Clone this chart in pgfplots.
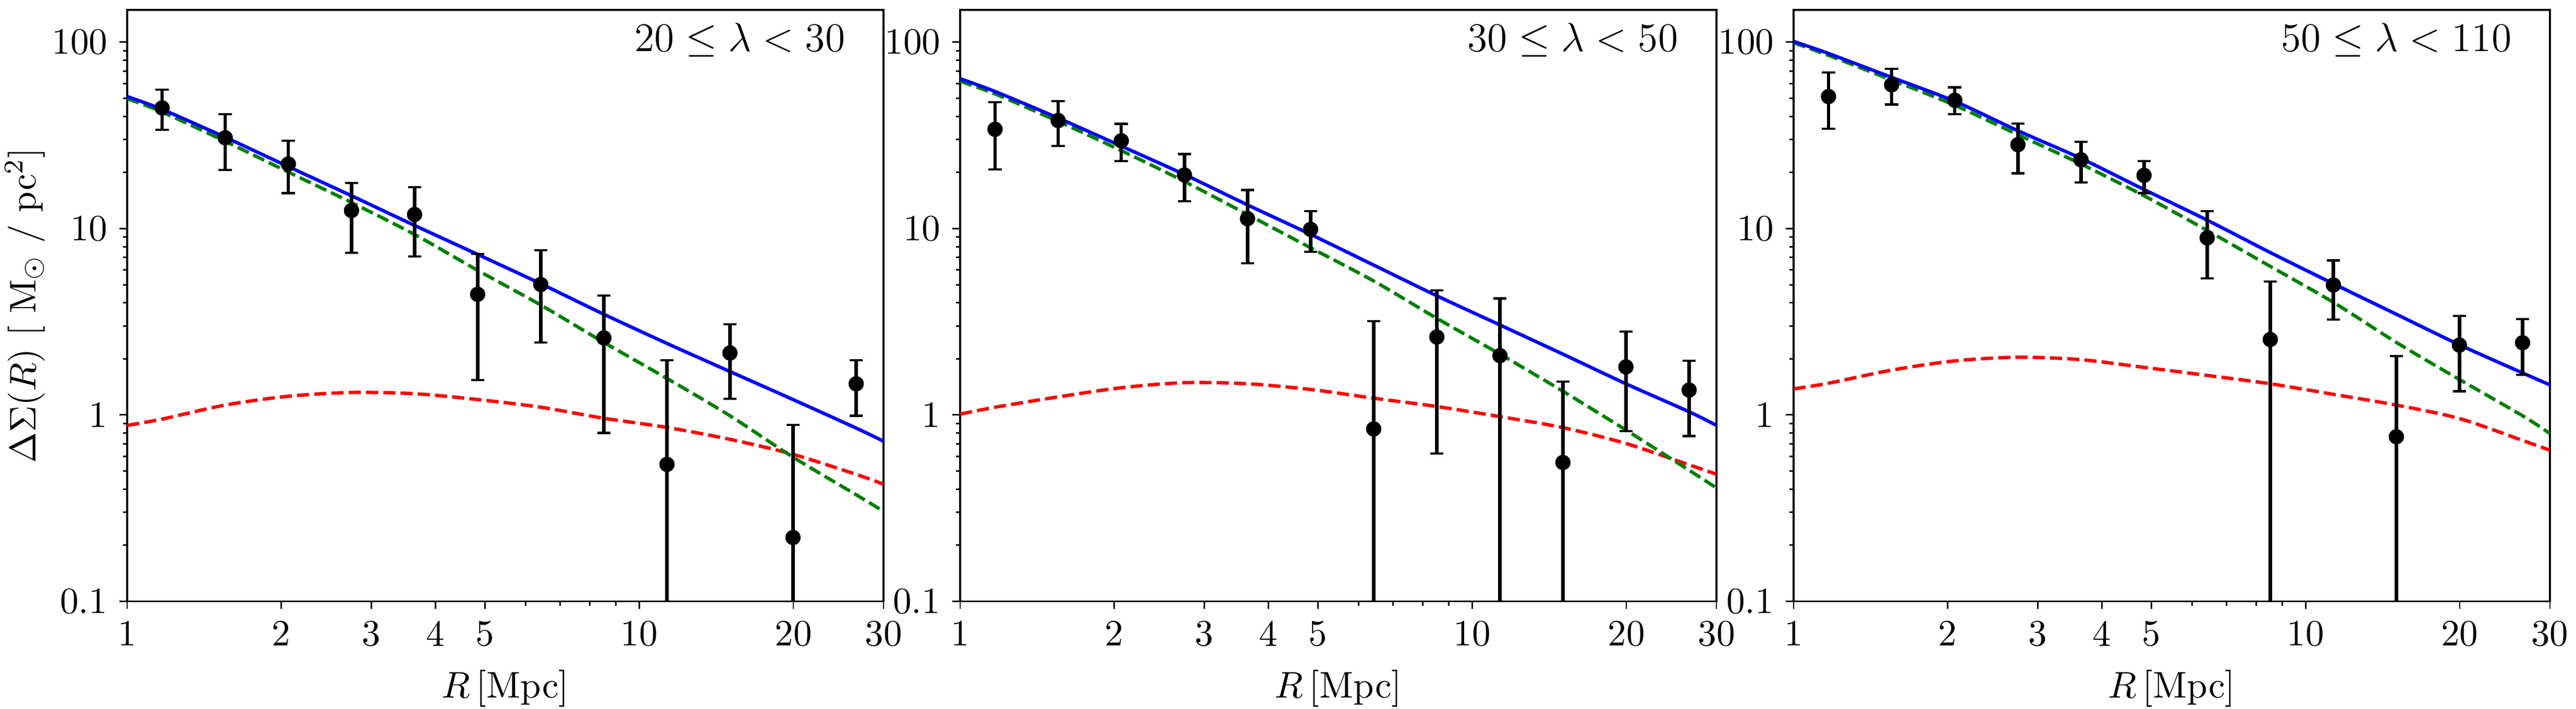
\documentclass[border=0pt]{standalone}
\usepackage{pgfplots}
\pgfplotsset{compat=1.18}
\usepackage{pgfplotstable}

\definecolor{mblue}{RGB}{0,0,255}
\definecolor{mgreen}{RGB}{0,128,0}
\definecolor{mred}{RGB}{255,0,0}

\pgfplotstableread{
R D ep em
1.170 44.4 11.2 10.6
1.554 30.7 10.3 10.1
2.064 22.2 7.4 6.7
2.742 12.5 5.1 5.1
3.641 11.9 4.8 4.8
4.835 4.44 2.89 2.90
6.423 5.01 2.63 2.56
8.530 2.59 1.79 1.79
11.33 0.543 1.42 0.533
15.04 2.15 0.92 0.93
19.97 0.220 0.664 0.21
26.53 1.47 0.50 0.48
}\dataA
\pgfplotstableread{
R D ep em
1.170 34.1 13.6 13.3
1.554 38.0 10.2 10.2
2.064 29.6 6.9 6.6
2.742 19.4 5.7 5.4
3.641 11.3 4.8 4.8
4.835 9.9 2.5 2.4
6.423 0.841 2.35 0.831
8.530 2.62 2.04 2.00
11.33 2.08 2.14 2.07
15.04 0.556 0.954 0.546
19.97 1.81 0.99 0.99
26.53 1.36 0.59 0.59
}\dataB
\pgfplotstableread{
R D ep em
1.170 51.1 17.7 16.7
1.554 59.1 12.9 12.8
2.064 48.8 8.5 7.7
2.742 28.2 8.4 8.4
3.641 23.4 5.8 5.7
4.835 19.3 3.7 3.8
6.423 8.91 3.5 3.5
8.530 2.54 2.65 2.53
11.33 4.98 1.77 1.73
15.04 0.764 1.31 0.754
19.97 2.37 1.03 1.03
26.53 2.44 0.83 0.80
}\dataC

\pgfplotstableread{
R blue green red
1 51.1 49.8 0.879
1.17 43.6 42.2 0.95
1.554 30.9 29.4 1.13
2.064 21.5 20.1 1.26
2.742 15.0 13.8 1.32
3.641 10.4 9.3 1.30
4.835 7.27 5.97 1.21
6.423 5.06 3.89 1.10
8.53 3.47 2.45 0.96
11.33 2.42 1.57 0.857
15.04 1.71 0.99 0.74
19.97 1.21 0.594 0.615
26.53 0.85 0.373 0.48
30 0.723 0.304 0.425
}\modA
\pgfplotstableread{
R blue green red
1 63.7 61.7 1.01
1.17 54.4 52.8 1.10
1.554 39.2 37.6 1.25
2.064 27.7 26.2 1.40
2.742 19.5 17.9 1.49
3.641 13.4 11.9 1.47
4.835 9.31 7.89 1.37
6.423 6.37 5.23 1.23
8.53 4.36 3.30 1.11
11.33 3.04 2.12 0.98
15.04 2.12 1.34 0.855
19.97 1.47 0.83 0.703
26.53 1.04 0.505 0.54
30 0.879 0.406 0.481
}\modB
\pgfplotstableread{
R blue green red
1 101 99.3 1.38
1.17 87 85 1.48
1.554 64.8 62.7 1.74
2.064 48.2 45.9 1.95
2.742 33.5 31.9 2.04
3.641 23.8 22.2 1.98
4.835 16.2 15.0 1.80
6.423 11.1 9.77 1.63
8.53 7.44 6.27 1.47
11.33 5.06 4.02 1.29
15.04 3.47 2.45 1.13
19.97 2.38 1.55 0.957
26.53 1.68 0.99 0.73
30 1.45 0.795 0.647
}\modC

\begin{document}
\begin{tikzpicture}
\begin{axis}[at={(37.58pt,31.66pt)},
    xmode=log, ymode=log,
    scale only axis, width=223.45pt, height=174.7pt,
    xmin=1, xmax=30, ymin=0.1, ymax=149,
    xtick={1,2,3,4,5,10,20,30}, xticklabels={1,2,3,4,5,10,20,30},
    minor xtick={6,7,8,9},
    ytick={0.1,1,10,100}, yticklabels={0.1,1,10,100},
    minor ytick={0.2,0.3,0.4,0.5,0.6,0.7,0.8,0.9,2,3,4,5,6,7,8,9,20,30,40,50,60,70,80,90},
    tick align=outside, xtick pos=left, ytick pos=left,
    major tick length=2.3pt, minor tick length=1.3pt,
    tick style={black, line width=0.45pt},
    tick label style={font=\fontsize{10.95}{13}\selectfont},
    label style={font=\fontsize{10.95}{13}\selectfont},
    xlabel={$R\,[\mathrm{Mpc}]$},
    axis line style={line width=0.5pt},
    ylabel style={at={(axis description cs:-0.135,0.5)}, anchor=center},
  ylabel={$\Delta\Sigma(R)\ [\ \mathrm{M}_{\odot}\ /\ \mathrm{pc}^{2}]$}]
\addplot[mred, line width=1pt, smooth, dash pattern=on 3.6pt off 1.5pt] table[x=R, y=red] {\modA};
\addplot[mgreen, line width=1pt, smooth, dash pattern=on 3.6pt off 1.5pt] table[x=R, y=green] {\modA};
\addplot[mblue, line width=1pt, smooth] table[x=R, y=blue] {\modA};
\addplot[only marks, mark=*, black, mark size=2.2pt,
    mark options={fill=black, draw=black, line width=0.1pt},
    error bars/y dir=both, error bars/y explicit,
    error bars/error bar style={line width=1pt, black},
    error bars/error mark options={rotate=90, mark size=1.95pt, line width=0.65pt, black}]
  table[x=R, y=D, y error plus=ep, y error minus=em] {\dataA};
\node[anchor=base east, font=\fontsize{11.5}{14}\selectfont] at (rel axis cs:0.965,0.930) {$20 \leq \lambda < 30$};
\end{axis}
\begin{axis}[at={(283.67pt,31.66pt)},
    xmode=log, ymode=log,
    scale only axis, width=223.45pt, height=174.7pt,
    xmin=1, xmax=30, ymin=0.1, ymax=149,
    xtick={1,2,3,4,5,10,20,30}, xticklabels={1,2,3,4,5,10,20,30},
    minor xtick={6,7,8,9},
    ytick={0.1,1,10,100}, yticklabels={0.1,1,10,100},
    minor ytick={0.2,0.3,0.4,0.5,0.6,0.7,0.8,0.9,2,3,4,5,6,7,8,9,20,30,40,50,60,70,80,90},
    tick align=outside, xtick pos=left, ytick pos=left,
    major tick length=2.3pt, minor tick length=1.3pt,
    tick style={black, line width=0.45pt},
    tick label style={font=\fontsize{10.95}{13}\selectfont},
    label style={font=\fontsize{10.95}{13}\selectfont},
    xlabel={$R\,[\mathrm{Mpc}]$},
    axis line style={line width=0.5pt}]
\addplot[mred, line width=1pt, smooth, dash pattern=on 3.6pt off 1.5pt] table[x=R, y=red] {\modB};
\addplot[mgreen, line width=1pt, smooth, dash pattern=on 3.6pt off 1.5pt] table[x=R, y=green] {\modB};
\addplot[mblue, line width=1pt, smooth] table[x=R, y=blue] {\modB};
\addplot[only marks, mark=*, black, mark size=2.2pt,
    mark options={fill=black, draw=black, line width=0.1pt},
    error bars/y dir=both, error bars/y explicit,
    error bars/error bar style={line width=1pt, black},
    error bars/error mark options={rotate=90, mark size=1.95pt, line width=0.65pt, black}]
  table[x=R, y=D, y error plus=ep, y error minus=em] {\dataB};
\node[anchor=base east, font=\fontsize{11.5}{14}\selectfont] at (rel axis cs:0.965,0.930) {$30 \leq \lambda < 50$};
\end{axis}
\begin{axis}[at={(529.91pt,31.66pt)},
    xmode=log, ymode=log,
    scale only axis, width=223.45pt, height=174.7pt,
    xmin=1, xmax=30, ymin=0.1, ymax=149,
    xtick={1,2,3,4,5,10,20,30}, xticklabels={1,2,3,4,5,10,20,30},
    minor xtick={6,7,8,9},
    ytick={0.1,1,10,100}, yticklabels={0.1,1,10,100},
    minor ytick={0.2,0.3,0.4,0.5,0.6,0.7,0.8,0.9,2,3,4,5,6,7,8,9,20,30,40,50,60,70,80,90},
    tick align=outside, xtick pos=left, ytick pos=left,
    major tick length=2.3pt, minor tick length=1.3pt,
    tick style={black, line width=0.45pt},
    tick label style={font=\fontsize{10.95}{13}\selectfont},
    label style={font=\fontsize{10.95}{13}\selectfont},
    xlabel={$R\,[\mathrm{Mpc}]$},
    axis line style={line width=0.5pt}]
\addplot[mred, line width=1pt, smooth, dash pattern=on 3.6pt off 1.5pt] table[x=R, y=red] {\modC};
\addplot[mgreen, line width=1pt, smooth, dash pattern=on 3.6pt off 1.5pt] table[x=R, y=green] {\modC};
\addplot[mblue, line width=1pt, smooth] table[x=R, y=blue] {\modC};
\addplot[only marks, mark=*, black, mark size=2.2pt,
    mark options={fill=black, draw=black, line width=0.1pt},
    error bars/y dir=both, error bars/y explicit,
    error bars/error bar style={line width=1pt, black},
    error bars/error mark options={rotate=90, mark size=1.95pt, line width=0.65pt, black}]
  table[x=R, y=D, y error plus=ep, y error minus=em] {\dataC};
\node[anchor=base east, font=\fontsize{11.5}{14}\selectfont] at (rel axis cs:0.965,0.930) {$50 \leq \lambda < 110$};
\end{axis}
\pgfresetboundingbox
\useasboundingbox (0,0) rectangle (761.07pt,209.29pt);
\end{tikzpicture}
\end{document}
